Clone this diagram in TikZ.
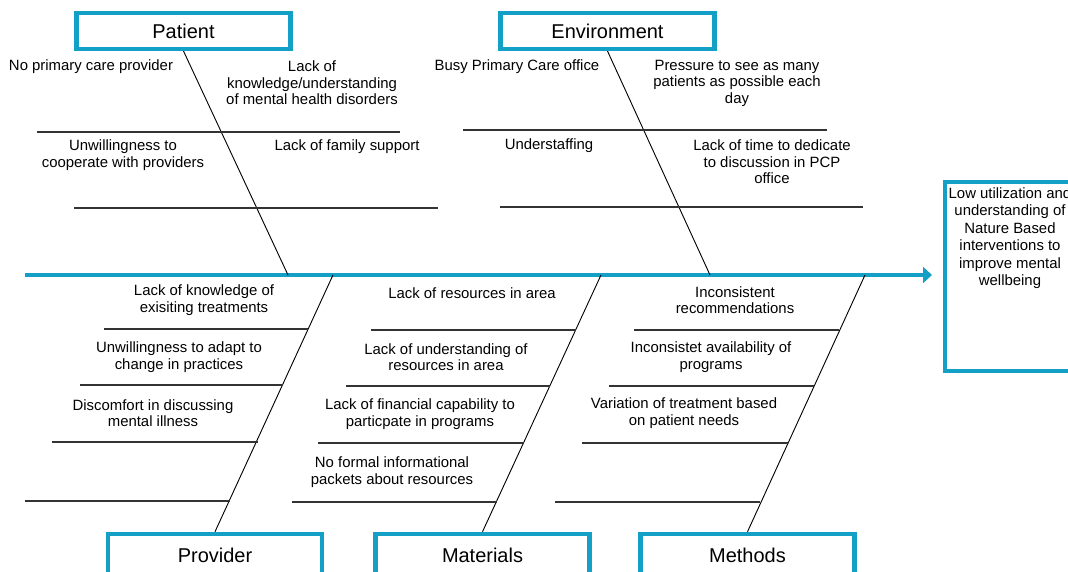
\documentclass[tikz,border=0pt]{standalone}
\usepackage{fontspec}
\setmainfont{Liberation Sans}
\usepackage{xcolor}
\usetikzlibrary{arrows.meta}
\definecolor{fishblue}{HTML}{14A0C6}

\begin{document}
\begin{tikzpicture}[x=0.025cm,y=-0.025cm,
    cat/.style={draw=fishblue,line width=3.2pt,minimum width=5.36cm,minimum height=0.89cm,font=\fontsize{14.2}{16}\selectfont},
    cause/.style={align=center,inner sep=0pt,font=\fontsize{10.6}{11.7}\selectfont},
    bone/.style={line width=0.65pt},
    rib/.style={line width=0.9pt,black!80}]
    \useasboundingbox (0,0) rectangle (1068,572);
    \clip (0,0) rectangle (1068,572);

    \node[cat] (patient) at (183.5,31) {Patient};
    \node[cat] (environment) at (607.5,31) {Environment};
    \node[cat,minimum height=1.05cm] (provider) at (215,555) {Provider};
    \node[cat,minimum height=1.05cm] (materials) at (482.5,555) {Materials};
    \node[cat,minimum height=1.05cm] (methods) at (747.5,555) {Methods};
    \node[draw=fishblue,line width=2.8pt,minimum width=3.25cm,minimum height=4.72cm] (effect) at (1010,276.5) {};
    \node[cause,anchor=north,font=\fontsize{10.6}{12.5}\selectfont] (effecttext) at (1010,187) {Low utilization and\\understanding of\\Nature Based\\interventions to\\improve mental\\wellbeing};

    \coordinate (tail) at (25,275);
    \coordinate (pa) at (288,275);
    \coordinate (en) at (710,275);
    \coordinate (pr) at (333,275);
    \coordinate (ma) at (601,275);
    \coordinate (me) at (865,275);

    \draw[fishblue,line width=3pt,-{Triangle[length=6.4pt,width=11.4pt]},shorten >=0.275cm] (tail) -- (tail -| effect.west);

    \draw[bone] (patient.south) -- (pa);
    \draw[bone] (environment.south) -- (en);
    \draw[bone] (pr) -- (provider.north);
    \draw[bone] (ma) -- (materials.north);
    \draw[bone] (me) -- (methods.north);

    \draw[rib] (37,132) -- (400,132);
    \draw[rib] (74,208) -- (438,208);
    \draw[rib] (463,130) -- (827,130);
    \draw[rib] (500,207) -- (863,207);

    \draw[rib] (104,329) -- (308,329);
    \draw[rib] (80,385) -- (283,385);
    \draw[rib] (52,442) -- (258,442);
    \draw[rib] (25,501) -- (230,501);
    \draw[rib] (371,330) -- (576,330);
    \draw[rib] (346,386) -- (550,386);
    \draw[rib] (318,443) -- (524,443);
    \draw[rib] (292,502) -- (497,502);
    \draw[rib] (634,330) -- (839,330);
    \draw[rib] (609,386) -- (814,386);
    \draw[rib] (582,443) -- (788,443);
    \draw[rib] (555,502) -- (760,502);

    \node[cause] (pa1) at (91,67) {No primary care provider};
    \node[cause] (pa2) at (312,83) {Lack of\\knowledge/understanding\\of mental health disorders};
    \node[cause] (pa3) at (123,155) {Unwillingness to\\cooperate with providers};
    \node[cause] (pa4) at (347,147) {Lack of family support};

    \node[cause] (en1) at (517,67) {Busy Primary Care office};
    \node[cause] (en2) at (737,83) {Pressure to see as many\\patients as possible each\\day};
    \node[cause] (en3) at (549,146) {Understaffing};
    \node[cause] (en4) at (772,162) {Lack of time to dedicate\\to discussion in PCP\\office};

    \node[cause] (pr1) at (204,300) {Lack of knowledge of\\exisiting treatments};
    \node[cause] (pr2) at (179,357) {Unwillingness to adapt to\\change in practices};
    \node[cause] (pr3) at (153,413) {Discomfort in discussing\\mental illness};

    \node[cause] (ma1) at (472,293) {Lack of resources in area};
    \node[cause] (ma2) at (446,357) {Lack of understanding of\\resources in area};
    \node[cause] (ma3) at (420,414) {Lack of financial capability to\\particpate in programs};
    \node[cause] (ma4) at (392,472) {No formal informational\\packets about resources};

    \node[cause] (me1) at (735,300) {Inconsistent\\recommendations};
    \node[cause] (me2) at (711,357) {Inconsistet availability of\\programs};
    \node[cause] (me3) at (684,413) {Variation of treatment based\\on patient needs};
\end{tikzpicture}
\end{document}
